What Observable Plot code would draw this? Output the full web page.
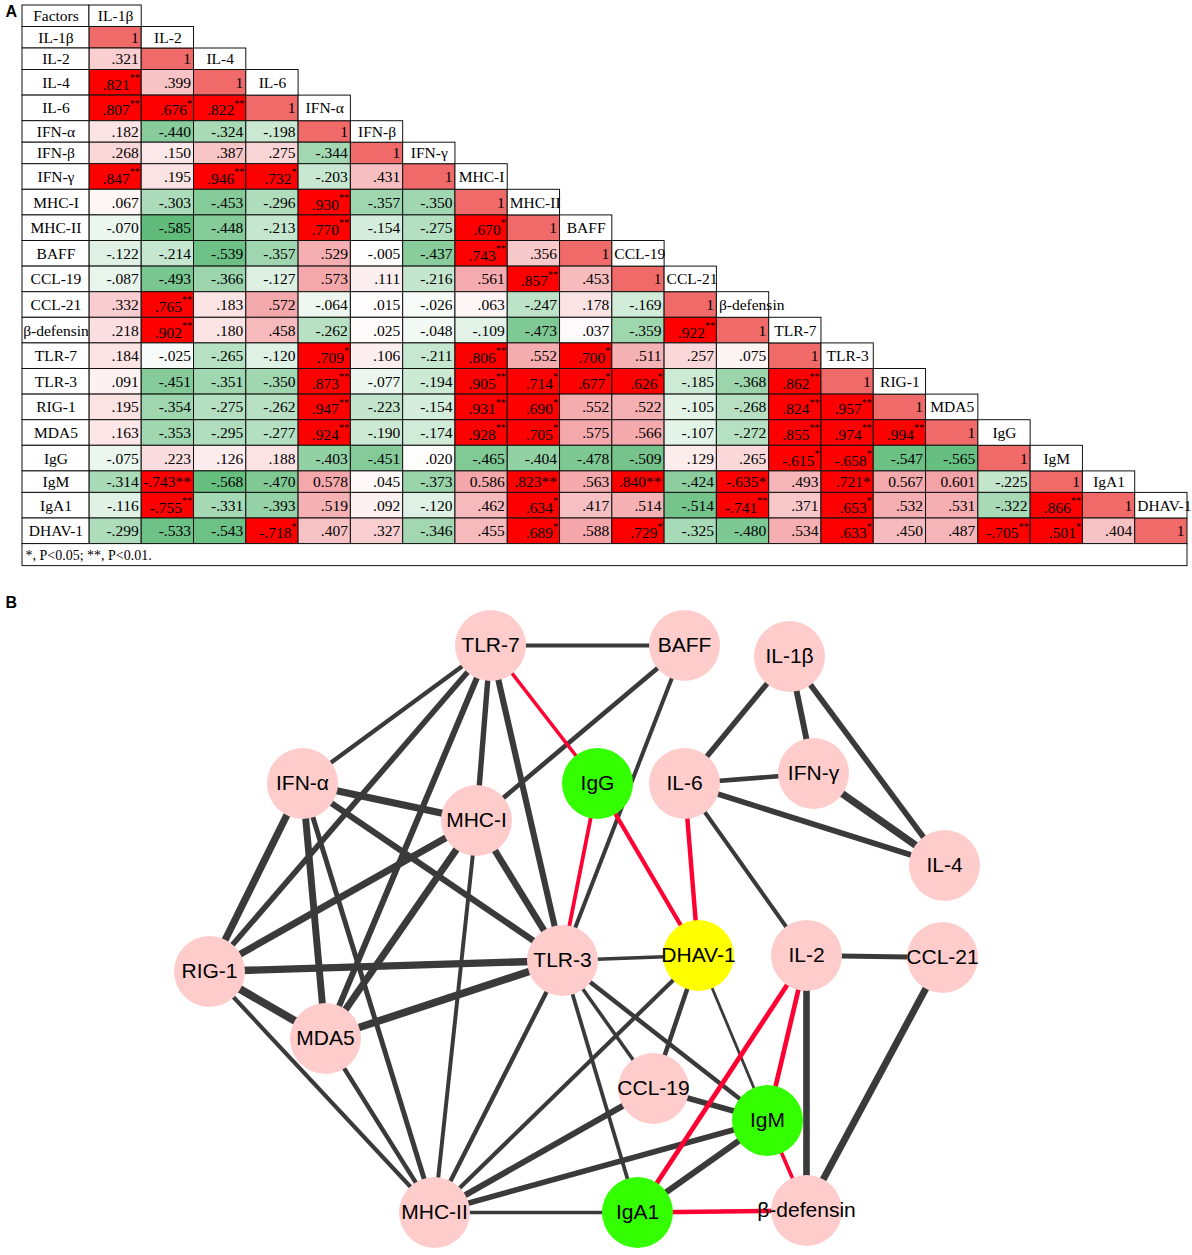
<!DOCTYPE html>
<html><head><meta charset="utf-8">
<script src="https://cdn.jsdelivr.net/npm/d3@7"></script>
<script src="https://cdn.jsdelivr.net/npm/@observablehq/plot@0.6"></script>
<style>body{margin:0;background:#fff}#wrap{width:1192px}svg{display:block}</style>
</head><body><div id="wrap"></div>
<script>
// ---------- DATA ----------
const factors = ["IL-1β","IL-2","IL-4","IL-6","IFN-α","IFN-β","IFN-γ","MHC-I","MHC-II","BAFF","CCL-19","CCL-21","β-defensin","TLR-7","TLR-3","RIG-1","MDA5","IgG","IgM","IgA1","DHAV-1"];
// lower-triangle correlations; "^" marks superscript significance stars
const corr = [
["1"],
[".321","1"],
[".821^**",".399","1"],
[".807^**",".676^*",".822^**","1"],
[".182","-.440","-.324","-.198","1"],
[".268",".150",".387",".275","-.344","1"],
[".847^**",".195",".946^**",".732^*","-.203",".431","1"],
[".067","-.303","-.453","-.296",".930^**","-.357","-.350","1"],
["-.070","-.585","-.448","-.213",".770^**","-.154","-.275",".670^*","1"],
["-.122","-.214","-.539","-.357",".529","-.005","-.437",".743^**",".356","1"],
["-.087","-.493","-.366","-.127",".573",".111","-.216",".561",".857^**",".453","1"],
[".332",".765^**",".183",".572","-.064",".015","-.026",".063","-.247",".178","-.169","1"],
[".218",".902^**",".180",".458","-.262",".025","-.048","-.109","-.473",".037","-.359",".922^**","1"],
[".184","-.025","-.265","-.120",".709^*",".106","-.211",".806^**",".552",".700^*",".511",".257",".075","1"],
[".091","-.451","-.351","-.350",".873^**","-.077","-.194",".905^**",".714^*",".677^*",".626^*","-.185","-.368",".862^**","1"],
[".195","-.354","-.275","-.262",".947^**","-.223","-.154",".931^**",".690^*",".552",".522","-.105","-.268",".824^**",".957^**","1"],
[".163","-.353","-.295","-.277",".924^**","-.190","-.174",".928^**",".705^*",".575",".566","-.107","-.272",".855^**",".974^**",".994^**","1"],
["-.075",".223",".126",".188","-.403","-.451",".020","-.465","-.404","-.478","-.509",".129",".265","-.615^*","-.658^*","-.547","-.565","1"],
["-.314","-.743**","-.568","-.470","0.578",".045","-.373","0.586",".823**",".563",".840**","-.424","-.635*",".493",".721*","0.567","0.601","-.225","1"],
["-.116","-.755^**","-.331","-.393",".519",".092","-.120",".462",".634^*",".417",".514","-.514","-.741^**",".371",".653^*",".532",".531","-.322",".866^**","1"],
["-.299","-.533","-.543","-.718^*",".407",".327","-.346",".455",".689^*",".588",".729^*","-.325","-.480",".534",".633^*",".450",".487","-.705^**",".501^*",".404","1"]
];
const footnote = "*, P<0.05; **, P<0.01.";
const headerLabel = "Factors";

// network layout
const nodeNames = ["TLR-7","BAFF","IL-1β","IFN-α","IgG","IL-6","IFN-γ","MHC-I","IL-4","RIG-1","TLR-3","DHAV-1","IL-2","CCL-21","MDA5","CCL-19","IgM","MHC-II","IgA1","β-defensin"];
const nodeX = [490,684,789,302,597,684,813,476,944,209,562,698,806,942,325,653,767,434,637,806];
const nodeY = [645,645,656,783,783,783,773,820,865,971,960,955,955,957,1038,1088,1120,1212,1212,1210];
const nodeKind = ["f","f","f","f","ig","f","f","f","f","f","f","v","f","f","f","f","ig","f","ig","f"];

// ---------- TABLE ----------
const cells = [];
corr.forEach((row, i) => row.forEach((s, j) => {
  const sup = s.includes("^");
  const parts = sup ? s.split("^") : [s, ""];
  cells.push({i, j, row: i + 1, label: parts[0], sup: parts[1],
    v: parseFloat(s.replace(/[\^*]/g, "")), sig: s.includes("*"), diag: i === j});
}));
// row geometry: rows holding superscripts are taller
const rowTop = [5];
const rowHeights = [21.5].concat(corr.map(r => r.some(s => s.includes("^")) ? 25.6 : 21.5));
rowHeights.forEach((h, k) => rowTop.push(rowTop[k] + h));
const footTop = rowTop[rowTop.length - 1], footBottom = footTop + 22;
const yTop = r => rowTop[r], yBot = r => rowTop[r + 1], yMid = r => (rowTop[r] + rowTop[r + 1]) / 2;

const pos = d3.interpolateRgb("#ffffff", "rgb(236,104,110)");
const neg = d3.interpolateRgb("#ffffff", "rgb(93,186,120)");
function cellColor(d) {
  if (d.diag) return "#f06a6a";
  if (d.sig) return "#ff0000";
  return d.v >= 0 ? pos(Math.min(d.v, 1)) : neg(Math.min(-d.v / 0.6, 1));
}
const L0 = -1.28, NC = factors.length;
const headers = [{label: headerLabel, x1: L0, x2: 0, row: 0, center: true},
                 {label: factors[0], x1: 0, x2: 1, row: 0, center: true}];
for (let i = 0; i < NC - 1; i++) headers.push({label: factors[i + 1], x1: i + 1, x2: i + 2, row: i + 1, center: factors[i + 1].length < 6});
const rowLabels = factors.map((f, i) => ({label: f, row: i + 1}));

const serif = "Liberation Serif, Times New Roman, serif";
const sans = "Liberation Sans, Arial, sans-serif";
const FS = 15.5;
const table = Plot.plot({
  width: 1192, height: 590, margin: 0,
  x: {type: "linear", domain: [L0, NC], range: [22, 1187], axis: null},
  y: {type: "linear", domain: [0, 590], range: [0, 590], axis: null},
  color: {type: "identity"},
  marks: [
    Plot.rect(cells, {x1: "j", x2: d => d.j + 1, y1: d => yTop(d.row), y2: d => yBot(d.row), fill: cellColor, stroke: "#111", strokeWidth: 1}),
    Plot.rect(rowLabels, {x1: () => L0, x2: () => 0, y1: d => yTop(d.row), y2: d => yBot(d.row), fill: "white", stroke: "#111", strokeWidth: 1}),
    Plot.rect(headers, {x1: "x1", x2: "x2", y1: d => yTop(d.row), y2: d => yBot(d.row), fill: "white", stroke: "#111", strokeWidth: 1}),
    Plot.rect([footnote], {x1: () => L0, x2: () => NC, y1: () => footTop, y2: () => footBottom, fill: "white", stroke: "#111", strokeWidth: 1}),
    Plot.text(rowLabels, {x: () => L0 / 2, y: d => yMid(d.row), text: "label", fontFamily: serif, fontSize: FS, fill: "black"}),
    Plot.text(headers.filter(h => h.center), {x: d => (d.x1 + d.x2) / 2, y: d => yMid(d.row), text: "label", fontFamily: serif, fontSize: FS, fill: "black"}),
    Plot.text(headers.filter(h => !h.center), {x: "x1", y: d => yMid(d.row), text: "label", textAnchor: "start", dx: 2, fontFamily: serif, fontSize: FS, fill: "black"}),
    Plot.text(cells.filter(d => d.sup === ""), {x: d => d.j + 1, y: d => yMid(d.row), text: "label", textAnchor: "end", dx: -3, fontFamily: serif, fontSize: FS, fill: "black"}),
    Plot.text(cells.filter(d => d.sup === "*"), {x: d => d.j + 1, y: d => yMid(d.row), text: "label", textAnchor: "end", dx: -7, dy: 2, fontFamily: serif, fontSize: FS, fill: "black"}),
    Plot.text(cells.filter(d => d.sup === "**"), {x: d => d.j + 1, y: d => yMid(d.row), text: "label", textAnchor: "end", dx: -12, dy: 2, fontFamily: serif, fontSize: FS, fill: "black"}),
    Plot.text(cells.filter(d => d.sup !== ""), {x: d => d.j + 1, y: d => yMid(d.row), text: "sup", textAnchor: "end", dx: -2, dy: -5, fontFamily: serif, fontSize: 10, fill: "black"}),
    Plot.text([footnote], {x: () => L0, y: () => (footTop + footBottom) / 2, text: d => d, textAnchor: "start", dx: 3, fontFamily: serif, fontSize: 14, fill: "black"}),
    Plot.text(["A"], {frameAnchor: "top-left", text: d => d, dx: 5, dy: 5, fontFamily: sans, fontWeight: "bold", fontSize: 16, fill: "black"})
  ]
});

// ---------- NETWORK ----------
const nodes = nodeNames.map((n, k) => ({name: n, x: nodeX[k], y: nodeY[k], kind: nodeKind[k]}));
const byName = new Map(nodes.map(n => [n.name, n]));
const edges = cells.filter(d => d.sig && !d.diag).map(d => {
  const a = byName.get(factors[d.j]), b = byName.get(factors[d.i]);
  return {x1: a.x, y1: a.y, x2: b.x, y2: b.y, v: d.v};
});
const edgeW = e => 2.8 + Math.pow((Math.abs(e.v) - 0.5) / 0.5, 1.4) * 5.2;
const kindColor = {f: "#ffcccc", ig: "#33ff00", v: "#ffff00"};
const net = Plot.plot({
  width: 1192, height: 665, margin: 0,
  x: {type: "linear", domain: [0, 1192], range: [0, 1192], axis: null},
  y: {type: "linear", domain: [590, 1255], range: [0, 665], axis: null},
  color: {type: "identity"},
  marks: [
    Plot.link(edges.filter(e => e.v > 0), {x1: "x1", y1: "y1", x2: "x2", y2: "y2", stroke: "#3a3a3a", strokeWidth: edgeW}),
    Plot.link(edges.filter(e => e.v < 0), {x1: "x1", y1: "y1", x2: "x2", y2: "y2", stroke: "#ff0033", strokeWidth: edgeW}),
    Plot.dot(nodes, {x: "x", y: "y", r: 35.5, fill: d => kindColor[d.kind], stroke: "none"}),
    Plot.text(nodes, {x: "x", y: "y", text: "name", fontFamily: sans, fontSize: 21, fill: "black"}),
    Plot.text(["B"], {frameAnchor: "top-left", text: d => d, dx: 5, dy: 6, fontFamily: sans, fontWeight: "bold", fontSize: 16, fill: "black"})
  ]
});

const wrap = document.getElementById("wrap");
wrap.appendChild(table);
wrap.appendChild(net);
</script>
</body></html>
